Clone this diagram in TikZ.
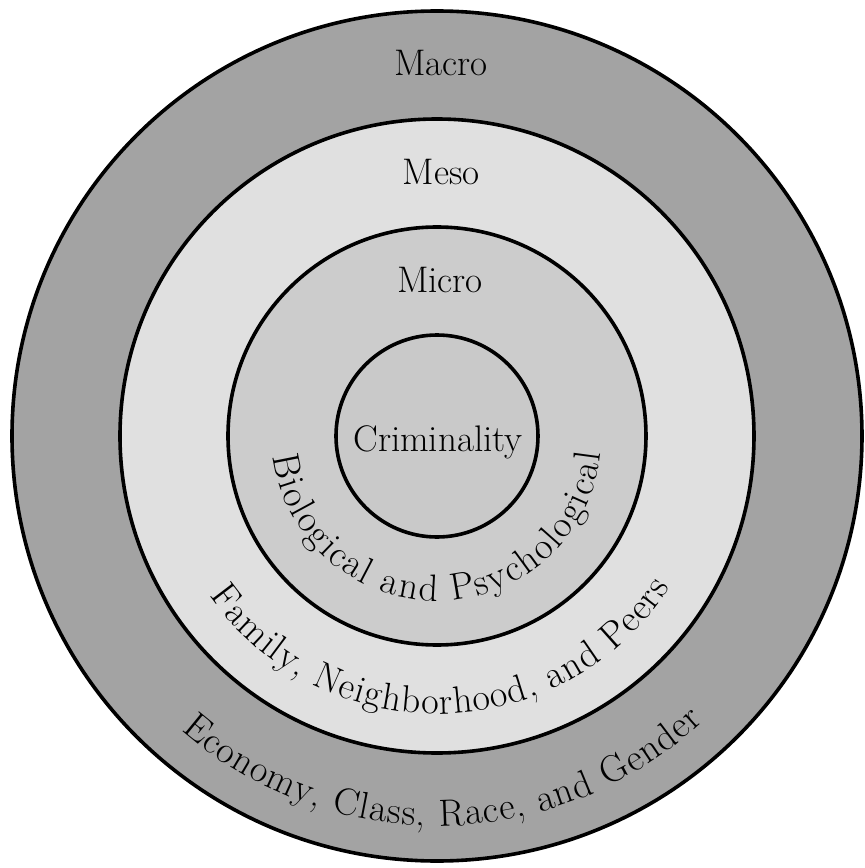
\documentclass[tikz,border=0pt]{standalone}
\usepackage{fontspec}
\usetikzlibrary{decorations.text}

\definecolor{macrogray}{gray}{0.64}
\definecolor{mesogray}{gray}{0.88}
\definecolor{microgray}{gray}{0.80}
\definecolor{coregray}{gray}{0.79}
\newcommand{\ringfont}{\fontsize{37}{44}\selectfont}
\newcommand{\arcfont}{\fontsize{38}{44}\selectfont}

\begin{document}
\begin{tikzpicture}[x=1pt,y=1pt,
    ring/.style={draw=black, line width=3.6pt},
    levelname/.style={font=\ringfont, inner sep=0pt, anchor=base},
    arctext/.style={decorate, decoration={text along path, text align=fit to path,
        text={|\arcfont|#1}}}]
  \useasboundingbox[fill=white] (-437,-432) rectangle (428,436);

  % rings, outside in
  \draw[ring, fill=macrogray] (0,0) circle[radius=425];
  \draw[ring, fill=mesogray]  (0,0) circle[radius=317];
  \draw[ring, fill=microgray] (0,0) circle[radius=209];
  \draw[ring, fill=coregray]  (0,0) circle[radius=101];

  % level names
  \node[levelname] (macro) at (4,360) {Macro};
  \node[levelname] (meso)  at (4,251) {Meso};
  \node[levelname] (micro) at (3,143) {Micro};
  \node[levelname] (core)  at (1,-15) {Criminality};

  % curved factors along the lower arcs
  \path[arctext={Biological and Psychological}]
    (187:165) arc[start angle=187, end angle=354, radius=165];
  \path[arctext={Family, Neighborhood, and Peers}]
    (215:278) arc[start angle=215, end angle=327, radius=278];
  \path[arctext={Economy, Class, Race, and Gender}]
    (229:390) arc[start angle=229, end angle=313, radius=390];
\end{tikzpicture}
\end{document}
